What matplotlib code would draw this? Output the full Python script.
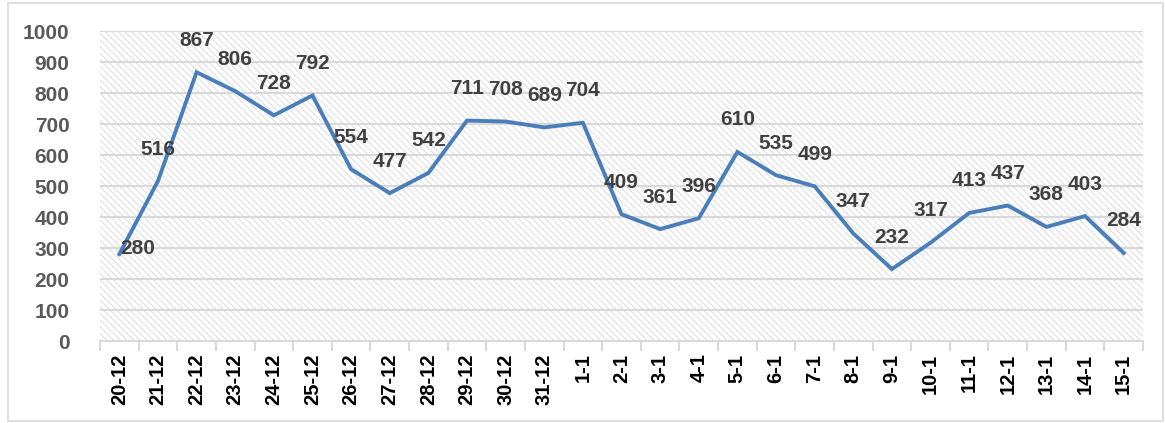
import numpy as np
import matplotlib
matplotlib.use("Agg")
import matplotlib.pyplot as plt
from matplotlib.patches import Rectangle

dates = ["20-12", "21-12", "22-12", "23-12", "24-12", "25-12", "26-12", "27-12",
         "28-12", "29-12", "30-12", "31-12", "1-1", "2-1", "3-1", "4-1", "5-1",
         "6-1", "7-1", "8-1", "9-1", "10-1", "11-1", "12-1", "13-1", "14-1", "15-1"]
values = [280, 516, 867, 806, 728, 792, 554, 477, 542, 711, 708, 689, 704, 409,
          361, 396, 610, 535, 499, 347, 232, 317, 413, 437, 368, 403, 284]
yticks = [0, 100, 200, 300, 400, 500, 600, 700, 800, 900, 1000]

plt.rcParams['font.family'] = ['Liberation Sans', 'DejaVu Sans']
plt.rcParams['hatch.linewidth'] = 0.8

fig = plt.figure(figsize=(11.65, 4.23), dpi=100)
fig.patches.append(Rectangle((8 / 1165, 2 / 423), 1155 / 1165, 418 / 423,
                             transform=fig.transFigure, fill=False,
                             edgecolor="#d9d9d9", linewidth=1.2))
ax = fig.add_axes([100 / 1165, 1 - 341 / 423, 1043 / 1165, 310 / 423])

x = np.arange(len(dates))
ax.set_xlim(-0.5, len(dates) - 0.5)
ax.set_ylim(0, 1000)

# hatched background
ax.add_patch(Rectangle((0, 0), 1, 1, transform=ax.transAxes, facecolor="white",
                       edgecolor="#e0e0e0", hatch="\\\\\\\\\\", linewidth=0, zorder=0))

for y in yticks[1:]:
    ax.axhline(y, color="#d9d9d9", linewidth=1.5, zorder=1)

ax.plot(x, values, color="#4a7ebb", linewidth=2.8, zorder=3,
        solid_joinstyle="miter")

for i, v in enumerate(values):
    dx = 18 if i == 0 else 0
    dy = 6 if i == 0 else 32
    ax.annotate(str(v), (i, v), xytext=(dx, dy), textcoords="offset pixels",
                ha="center", va="center", fontsize=15, fontweight="bold",
                color="#404040", zorder=4)

for s in ["top", "right", "left"]:
    ax.spines[s].set_visible(False)
ax.spines["bottom"].set_color("#d9d9d9")
ax.spines["bottom"].set_linewidth(1.5)

ax.set_yticks(yticks)
ax.set_yticklabels([str(t) for t in yticks], fontsize=15, fontweight="bold",
                   color="#595959")
ax.tick_params(axis="y", length=0, pad=22)

ax.set_xticks(x)
ax.set_xticklabels(dates, rotation=90, fontsize=14.5, fontweight="bold",
                   color="black")
ax.tick_params(axis="x", which="major", length=0, pad=9)
ax.set_xticks(np.arange(-0.5, len(dates), 1), minor=True)
ax.tick_params(axis="x", which="minor", length=7, width=1.5, color="#d9d9d9",
               direction="out")

fig.savefig("out.png", dpi=100)
